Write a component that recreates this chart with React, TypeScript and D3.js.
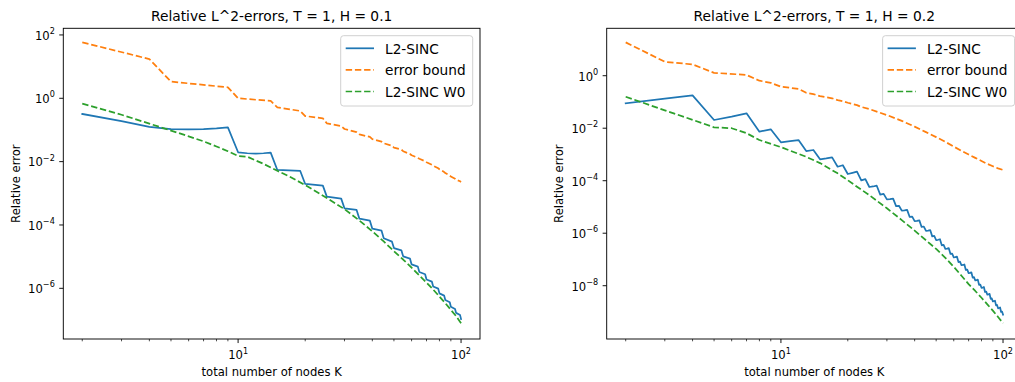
import React from 'react';
import * as d3 from 'd3';

const W = 1015;
const H = 382;
const FONT = "'DejaVu Sans', 'Liberation Sans', sans-serif";

const C_BLUE = '#1f77b4';
const C_ORANGE = '#ff7f0e';
const C_GREEN = '#2ca02c';

// ---------- Left panel (H = 0.1): K values and log10(relative error) ----------
const leftBlueK = [2, 3, 4, 5, 6, 7, 8, 9, 10, 11, 12, 13, 14, 15, 19, 20, 24, 25, 29, 30, 34, 35, 39, 40, 44, 45, 49, 50, 54, 55, 59, 60, 64, 65, 69, 70, 74, 75, 79, 80, 84, 85, 89, 90, 94, 95, 99, 100];
const leftBlueLog = [-0.495, -0.72, -0.9, -0.97, -0.985, -0.975, -0.95, -0.916, -1.705, -1.735, -1.745, -1.735, -1.716, -2.263, -2.295, -2.705, -2.758, -3.105, -3.168, -3.474, -3.526, -3.8, -3.863, -4.116, -4.179, -4.42, -4.526, -4.73, -4.8, -4.99, -5.06, -5.245, -5.315, -5.486, -5.556, -5.72, -5.79, -5.94, -6.01, -6.16, -6.23, -6.37, -6.44, -6.58, -6.65, -6.775, -6.845, -6.97];

const leftBoundK = [2, 4, 5, 9, 10, 14, 15, 19, 20, 24, 25, 29, 30, 34, 35, 39, 40, 44, 45, 49, 50, 54, 55, 59, 60, 64, 65, 69, 70, 74, 75, 79, 80, 84, 85, 89, 90, 94, 95, 99, 100];
const leftBoundLog = [1.768, 1.238, 0.526, 0.347, 0.0, -0.084, -0.284, -0.4, -0.56, -0.632, -0.79, -0.88, -0.97, -1.07, -1.14, -1.22, -1.29, -1.37, -1.42, -1.5, -1.555, -1.62, -1.67, -1.76, -1.8, -1.88, -1.91, -1.99, -2.02, -2.1, -2.13, -2.21, -2.24, -2.33, -2.36, -2.44, -2.47, -2.54, -2.57, -2.62, -2.64];

const leftW0K = [2, 3, 4, 5, 6, 7, 8, 9, 10, 11, 13, 15, 17, 20, 25, 30, 35, 40, 45, 50, 55, 60, 65, 70, 75, 80, 85, 90, 95, 100];
const leftW0Log = [-0.17, -0.52, -0.8, -1.02, -1.2, -1.36, -1.52, -1.67, -1.82, -1.845, -2.07, -2.29, -2.47, -2.74, -3.15, -3.5, -3.86, -4.2, -4.52, -4.83, -5.09, -5.345, -5.59, -5.82, -6.04, -6.26, -6.47, -6.68, -6.875, -7.1];

// ---------- Right panel (H = 0.2) ----------
const rightBlueK = [2, 3, 4, 5, 6, 7, 8, 9, 10, 11, 12, 13, 14, 15, 16, 17, 18, 19, 20, 21, 22, 23, 24, 25, 26, 27, 28, 29, 30, 31, 32, 33, 34, 35, 36, 37, 38, 39, 40, 41, 42, 43, 44, 45, 46, 47, 48, 49, 50, 51, 52, 53, 54, 55, 56, 57, 58, 59, 60, 61, 62, 63, 64, 65, 66, 67, 68, 69, 70, 71, 72, 73, 74, 75, 76, 77, 78, 79, 80, 81, 82, 83, 84, 85, 86, 87, 88, 89, 90, 91, 92, 93, 94, 95, 96, 97, 98, 99, 100];
const rightBlueLog = [-1.05, -0.87, -0.747, -1.688, -1.56, -1.433, -2.133, -2.042, -2.537, -2.49, -2.45, -2.869, -2.83, -3.186, -3.15, -3.11, -3.467, -3.41, -3.745, -3.7, -3.657, -3.99, -3.94, -4.24, -4.22, -4.19, -4.53, -4.5, -4.71, -4.7, -4.68, -4.97, -4.955, -5.14, -5.13, -5.11, -5.38, -5.365, -5.54, -5.53, -5.51, -5.76, -5.745, -5.91, -5.9, -5.88, -6.12, -6.105, -6.26, -6.25, -6.23, -6.46, -6.445, -6.6, -6.59, -6.57, -6.79, -6.775, -6.92, -6.91, -6.89, -7.1, -7.085, -7.22, -7.21, -7.19, -7.4, -7.385, -7.52, -7.51, -7.49, -7.69, -7.675, -7.8, -7.79, -7.77, -7.97, -7.955, -8.08, -8.07, -8.05, -8.24, -8.225, -8.34, -8.33, -8.31, -8.5, -8.485, -8.6, -8.59, -8.57, -8.75, -8.735, -8.86, -8.85, -8.83, -9.0, -8.985, -9.1];

const rightBoundK = [2, 3, 4, 5, 7, 8, 9, 10, 12, 13, 14, 15, 17, 18, 19, 20, 22, 23, 25, 27, 30, 35, 40, 45, 50, 55, 60, 65, 70, 75, 80, 85, 90, 95, 100];
const rightBoundLog = [1.27, 0.53, 0.43, 0.11, 0.03, -0.19, -0.27, -0.42, -0.5, -0.65, -0.7, -0.78, -0.86, -0.93, -0.97, -1.03, -1.12, -1.19, -1.27, -1.37, -1.5, -1.72, -1.94, -2.15, -2.34, -2.52, -2.7, -2.86, -3.0, -3.13, -3.25, -3.36, -3.45, -3.53, -3.59];

const rightW0K = [2, 3, 4, 5, 6, 7, 8, 10, 13, 15, 18, 20, 22, 25, 30, 35, 40, 45, 50, 55, 60, 65, 70, 75, 80, 85, 90, 95, 100];
const rightW0Log = [-0.8, -1.32, -1.68, -1.966, -2.0, -2.19, -2.45, -2.72, -3.09, -3.33, -3.72, -3.98, -4.23, -4.55, -5.05, -5.5, -5.9, -6.27, -6.6, -6.94, -7.28, -7.62, -7.94, -8.2, -8.46, -8.71, -8.95, -9.19, -9.43];

// ---------- Ticks / labels ----------
const xMajorTicks = [10, 100];
const xMajorLabels = ['1', '2'];
const xMinorTicks = [2, 3, 4, 5, 6, 7, 8, 9, 20, 30, 40, 50, 60, 70, 80, 90];
const leftYTickExps = [2, 0, -2, -4, -6];
const rightYTickExps = [0, -2, -4, -6, -8];
const legendNames = ['L2-SINC', 'error bound', 'L2-SINC W0'];

const titles = ['Relative L^2-errors, T = 1, H = 0.1', 'Relative L^2-errors, T = 1, H = 0.2'];
const xLabel = 'total number of nodes K';
const yLabel = 'Relative error';

type Series = { k: number[]; v: number[]; color: string; dashed: boolean };

const TOP = 28.3;
const BOTTOM = 339;
const LW = 1.74;
const DASH = '6.4,2.8';

function sup(s: string) {
  return s.replace('-', '\u2212');
}

function Panel(props: {
  id: string;
  title: string;
  x0: number;
  x1: number;
  xDomLog: [number, number];
  yDomLog: [number, number];
  yTicks: number[];
  series: Series[];
  yLabelX: number;
}) {
  const { id, title, x0, x1, xDomLog, yDomLog, yTicks, series, yLabelX } = props;
  const xs = d3.scaleLog().domain([10 ** xDomLog[0], 10 ** xDomLog[1]]).range([x0, x1]);
  const ys = d3.scaleLog().domain([10 ** yDomLog[0], 10 ** yDomLog[1]]).range([BOTTOM, TOP]);
  const line = d3
    .line<[number, number]>()
    .x((d) => xs(d[0]))
    .y((d) => ys(10 ** d[1]));
  const cx = (x0 + x1) / 2;
  const legW = 132;
  const legX = x1 - 7.3 - legW;
  const legY = 35.7;
  const rows = [48.3, 69.9, 91.5];

  return (
    <g>
      <defs>
        <clipPath id={id}>
          <rect x={x0} y={TOP} width={x1 - x0} height={BOTTOM - TOP} />
        </clipPath>
      </defs>
      <g clipPath={`url(#${id})`}>
        {series.map((s, i) => (
          <path
            key={i}
            d={line(s.k.map((k, j) => [k, s.v[j]] as [number, number])) || ''}
            fill="none"
            stroke={s.color}
            strokeWidth={LW}
            strokeDasharray={s.dashed ? DASH : undefined}
            strokeLinejoin="round"
            strokeLinecap={s.dashed ? 'butt' : 'square'}
          />
        ))}
      </g>
      <rect x={x0} y={TOP} width={x1 - x0} height={BOTTOM - TOP} fill="none" stroke="#000" strokeWidth={0.93} />
      {xMinorTicks.map((t) => (
        <line key={'mn' + t} x1={xs(t)} x2={xs(t)} y1={BOTTOM} y2={BOTTOM + 2.3} stroke="#000" strokeWidth={0.7} />
      ))}
      {xMajorTicks.map((t, i) => (
        <g key={'mj' + t}>
          <line x1={xs(t)} x2={xs(t)} y1={BOTTOM} y2={BOTTOM + 4.06} stroke="#000" strokeWidth={0.93} />
          <text x={xs(t)} y={359.4} textAnchor="middle" fontSize={11.6} fontFamily={FONT} fill="#000">
            10
            <tspan dy={-5.7} fontSize={8.1}>
              {xMajorLabels[i]}
            </tspan>
          </text>
        </g>
      ))}
      {yTicks.map((e) => {
        const y = ys(10 ** e);
        return (
          <g key={'y' + e}>
            <line x1={x0 - 4.06} x2={x0} y1={y} y2={y} stroke="#000" strokeWidth={0.93} />
            <text x={x0 - 8.5} y={y + 4.8} textAnchor="end" fontSize={11.6} fontFamily={FONT} fill="#000">
              10
              <tspan dy={-5.7} fontSize={8.1}>
                {sup(String(e))}
              </tspan>
            </text>
          </g>
        );
      })}
      <text x={cx} y={21.3} textAnchor="middle" fontSize={13.8} fontFamily={FONT} fill="#000">
        {title}
      </text>
      <text x={cx} y={375.5} textAnchor="middle" fontSize={11.6} fontFamily={FONT} fill="#000">
        {xLabel}
      </text>
      <text
        transform={`translate(${yLabelX},${(TOP + BOTTOM) / 2}) rotate(-90)`}
        textAnchor="middle"
        fontSize={11.6}
        fontFamily={FONT}
        fill="#000"
      >
        {yLabel}
      </text>
      <rect x={legX} y={legY} width={legW} height={70.3} rx={2.8} fill="#fff" fillOpacity={0.8} stroke="#cccccc" strokeWidth={0.93} />
      {series.map((s, i) => (
        <g key={'lg' + i}>
          <line
            x1={legX + 5}
            x2={legX + 33.3}
            y1={rows[i]}
            y2={rows[i]}
            stroke={s.color}
            strokeWidth={LW}
            strokeDasharray={s.dashed ? DASH : undefined}
          />
          <text x={legX + 44.3} y={rows[i] + 5.2} fontSize={13.7} fontFamily={FONT} fill="#000">
            {legendNames[i]}
          </text>
        </g>
      ))}
    </g>
  );
}

export default function App() {
  const leftSeries: Series[] = [
    { k: leftBlueK, v: leftBlueLog, color: C_BLUE, dashed: false },
    { k: leftBoundK, v: leftBoundLog, color: C_ORANGE, dashed: true },
    { k: leftW0K, v: leftW0Log, color: C_GREEN, dashed: true },
  ];
  const rightSeries: Series[] = [
    { k: rightBlueK, v: rightBlueLog, color: C_BLUE, dashed: false },
    { k: rightBoundK, v: rightBoundLog, color: C_ORANGE, dashed: true },
    { k: rightW0K, v: rightW0Log, color: C_GREEN, dashed: true },
  ];
  return (
    <svg
      width={W}
      height={H}
      viewBox={`0 0 ${W} ${H}`}
      style={{ position: 'absolute', left: 0, top: 0, background: '#fff' }}
    >
      <rect x={0} y={0} width={W} height={H} fill="#fff" />
      <Panel
        id="clipL"
        title={titles[0]}
        x0={63.3}
        x1={480}
        xDomLog={[0.216, 2.085]}
        yDomLog={[-7.6, 2.21]}
        yTicks={leftYTickExps}
        series={leftSeries}
        yLabelX={19.5}
      />
      <Panel
        id="clipR"
        title={titles[1]}
        x0={606.7}
        x1={1021.9}
        xDomLog={[0.2155, 2.085]}
        yDomLog={[-10.03, 1.806]}
        yTicks={rightYTickExps}
        series={rightSeries}
        yLabelX={562.5}
      />
    </svg>
  );
}
